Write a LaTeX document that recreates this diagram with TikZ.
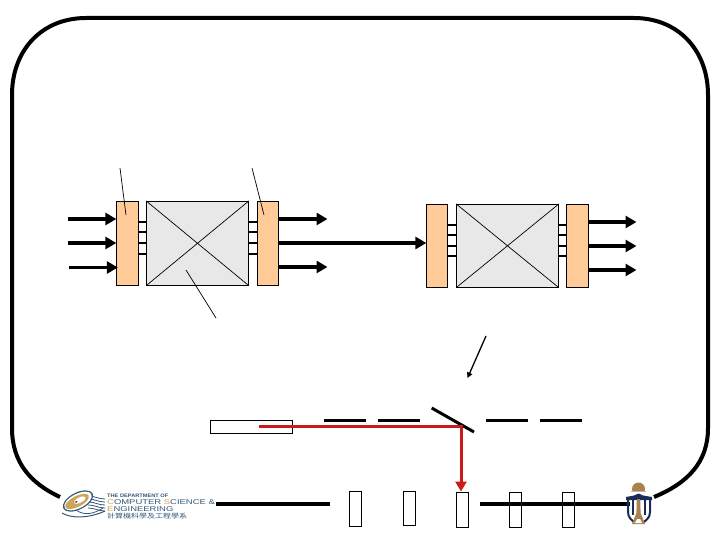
\documentclass[tikz,border=0pt]{standalone}
\usepackage{fontspec}
\setmainfont{Liberation Sans}
\newfontfamily\cjkf{Noto Sans CJK TC}
\usetikzlibrary{arrows.meta,calc}
\definecolor{orangebox}{RGB}{255,204,153}
\definecolor{grayfab}{RGB}{232,232,232}
\definecolor{redbeam}{RGB}{204,25,25}
\definecolor{cseblue}{RGB}{52,88,120}
\definecolor{csegold}{RGB}{205,165,85}
\definecolor{cunavy}{RGB}{25,45,90}
\definecolor{cugold}{RGB}{170,130,80}
\tikzset{
  x=1pt,y=-1pt,
  pad/.style={draw=black,line width=0.9pt,fill=orangebox,inner sep=0pt,minimum width=22pt,minimum height=84pt},
  fabric/.style={draw=black,line width=0.9pt,fill=grayfab,inner sep=0pt,minimum width=102pt,minimum height=84pt},
  slot/.style={draw=black,line width=0.9pt,fill=white,inner sep=0pt,minimum width=12pt,minimum height=35pt},
  fat/.style={line width=3.6pt,-{Triangle[length=11pt,width=12pt]},shorten >=-0.5pt},
  stub/.style={line width=2pt},
  thin line/.style={line width=0.7pt},
  frameline/.style={line width=4pt},
  seg/.style={line width=3pt},
  logot/.style={inner sep=0pt,anchor=west,text=cseblue},
}
\begin{document}
\begin{tikzpicture}
\useasboundingbox (0,0) rectangle (720,540);
\fill[white] (0,0) rectangle (720,540);
% frame
\draw[frameline] (60,497) .. controls (30,483) and (12,462) .. (12,428) -- (12,95)
  .. controls (12,50) and (42,18) .. (86,18) -- (634,18)
  .. controls (678,18) and (708,50) .. (708,95) -- (708,428)
  .. controls (708,462) and (688,483) .. (654,497);
% switch 1
\node[pad,minimum width=22.4pt] (p1) at (127.5,243.3) {};
\node[pad,minimum width=21.4pt] (p2) at (268,243.3) {};
\node[fabric] (f1) at (197.5,243.3) {};
\draw[thin line] (f1.north west) -- (f1.south east) (f1.north east) -- (f1.south west);
\foreach \yy in {221.7,232.3,243,253.7}{
  \draw[stub] (p1.east |- 0,\yy) -- (f1.west |- 0,\yy);
  \draw[stub] (f1.east |- 0,\yy) -- (p2.west |- 0,\yy);
}
% switch 2
\node[pad,minimum width=21.4pt,minimum height=83pt] (p3) at (437,245.8) {};
\node[pad,minimum width=22pt,minimum height=83pt] (p4) at (577.3,245.8) {};
\node[fabric,minimum height=83pt] (f2) at (507.5,245.8) {};
\draw[thin line] (f2.north west) -- (f2.south east) (f2.north east) -- (f2.south west);
\foreach \yy in {224.7,234.7,246,256}{
  \draw[stub] (p3.east |- 0,\yy) -- (f2.west |- 0,\yy);
  \draw[stub] (f2.east |- 0,\yy) -- (p4.west |- 0,\yy);
}
% fat arrows
\coordinate (a1) at (68,219);
\coordinate (a2) at (68,243);
\coordinate (a3) at (69,267.5);
\coordinate (b1) at (327,219);
\coordinate (b3) at (327,267);
\coordinate (c1) at (636,222);
\coordinate (c2) at (636,246);
\coordinate (c3) at (636,270);
\draw[fat] (a1) -- (p1.west |- a1);
\draw[fat] (a2) -- (p1.west |- a2);
\draw[fat] (a3) -- ($(p1.west |- a3)+(1.5,0)$);
\draw[fat] (p2.east |- b1) -- (b1);
\draw[fat] (p2.east |- 0,243) -- (p3.west |- 0,243);
\draw[fat] (p2.east |- b3) -- (b3);
\draw[fat] (p4.east |- c1) -- (c1);
\draw[fat] (p4.east |- c2) -- (c2);
\draw[fat] (p4.east |- c3) -- (c3);
% leader lines
\coordinate (l1a) at (120,168); \coordinate (l1b) at (126,215);
\coordinate (l2a) at (252,168); \coordinate (l2b) at (264,215);
\coordinate (l3a) at (186,270); \coordinate (l3b) at (216,318);
\draw[thin line] (l1a) -- (l1b);
\draw[thin line] (l2a) -- (l2b);
\draw[thin line] (l3a) -- (l3b);
% lower part
\node[draw=black,line width=0.9pt,fill=white,inner sep=0pt,minimum width=82pt,minimum height=13pt] (laser) at (251.5,426.8) {};
\foreach \xa/\xb in {324/366,378/420,486/528,540/582}{
  \coordinate (sa) at (\xa,420.3); \coordinate (sb) at (\xb,420.3);
  \draw[seg] (sa) -- (sb);
}
\coordinate (m1) at (431.7,408); \coordinate (m2) at (474,432);
\draw[seg] (m1) -- (m2);
\coordinate (arrA) at (486,336); \coordinate (arrB) at (467.5,378);
\draw[line width=1.3pt,-{Triangle[length=5.5pt,width=5.5pt]}] (arrA) -- (arrB);
% bus and slots
\node[slot] (s1) at (355.5,509) {};
\node[slot,minimum height=34pt] (s2) at (409.3,508.3) {};
\node[slot] (s3) at (462.5,509.5) {};
\node[slot] (s4) at (515.5,509.5) {};
\node[slot] (s5) at (568.5,509.5) {};
\coordinate (bus1) at (216,504); \coordinate (bus2) at (330,504);
\coordinate (bus3) at (480,504); \coordinate (bus4) at (630,504);
\draw[line width=4pt] (bus1) -- (bus2);
\draw[line width=4pt] (bus3) -- (bus4);
% red beam
\coordinate (r1) at (259.3,426.3); \coordinate (r2) at (461,426.3);
\draw[redbeam,line width=3pt,-{Triangle[length=10pt,width=11pt]}] (r1) -- (r2) -- (s3.north -| r2);
% CSE logo
\foreach \ya/\yb in {496/499,499/502,502/505,505/508,508/511}{
  \draw[cseblue,line width=0.8pt] (88,\ya) .. controls (95,\ya) and (98,\yb) .. (105,\yb);
}
\draw[cseblue,line width=1pt] (62,513) .. controls (72,519) and (90,518) .. (105,511);
\draw[cseblue,line width=0.8pt] (76,510) .. controls (84,516) and (94,514) .. (103,508);
\begin{scope}[shift={(78,501)},rotate=27]
  \fill[cseblue] (0,0) ellipse [x radius=16.5pt,y radius=8.5pt];
  \fill[white] (0,0) ellipse [x radius=15pt,y radius=7.2pt];
  \fill[csegold] (-1,0) ellipse [x radius=13pt,y radius=5.4pt];
  \fill[white] (2,0) ellipse [x radius=6.5pt,y radius=2.6pt];
  \fill[cseblue!70!black] (-2,0) ellipse [x radius=1.5pt,y radius=0.8pt];
\end{scope}
\node[logot] (t1) at (107,496) {\scalebox{1.13}[1]{\fontsize{5}{5}\selectfont\bfseries THE DEPARTMENT OF}};
\node[logot] (t2) at (107,502) {\scalebox{1.35}[1]{\fontsize{7}{7}\selectfont\textcolor{csegold}{C}OMPUTER \textcolor{csegold}{S}CIENCE \&}};
\node[logot] (t3) at (107,509.3) {\scalebox{1.35}[1]{\fontsize{7}{7}\selectfont\textcolor{csegold}{E}NGINEERING}};
\node[logot] (t4) at (107,516.5) {\scalebox{1.25}[1]{\cjkf\fontsize{6.4}{7}\selectfont 計算機科學及工程學系}};
% CUHK logo
\fill[cugold] (638.5,489) ellipse [x radius=6.5pt,y radius=6.5pt];
\fill[white] (630,491.5) rectangle (648,496);
\fill[cugold!60!white] (631,490.5) rectangle (646,491.5);
\fill[cunavy] (626,497) -- (634,495.5) -- (638.5,493.5) -- (643,495.5) -- (652,497) -- (652,500) -- (626,500) -- cycle;
\draw[cunavy,line width=2pt] (628,499) -- (628,512) .. controls (628,518) and (632,520) .. (634,522);
\draw[cunavy,line width=2pt] (650,499) -- (650,512) .. controls (650,518) and (646,520) .. (644,522);
\draw[cunavy,line width=1.6pt] (633,499) -- (633,515);
\draw[cunavy,line width=1.6pt] (645,499) -- (645,515);
\fill[cugold] (636.8,499) -- (640.2,499) -- (640.6,513) -- (645,524) -- (632,524) -- (636.4,513) -- cycle;
\fill[white] (637,519) -- (640,519) -- (642,523) -- (635,523) -- cycle;
\end{tikzpicture}
\end{document}
